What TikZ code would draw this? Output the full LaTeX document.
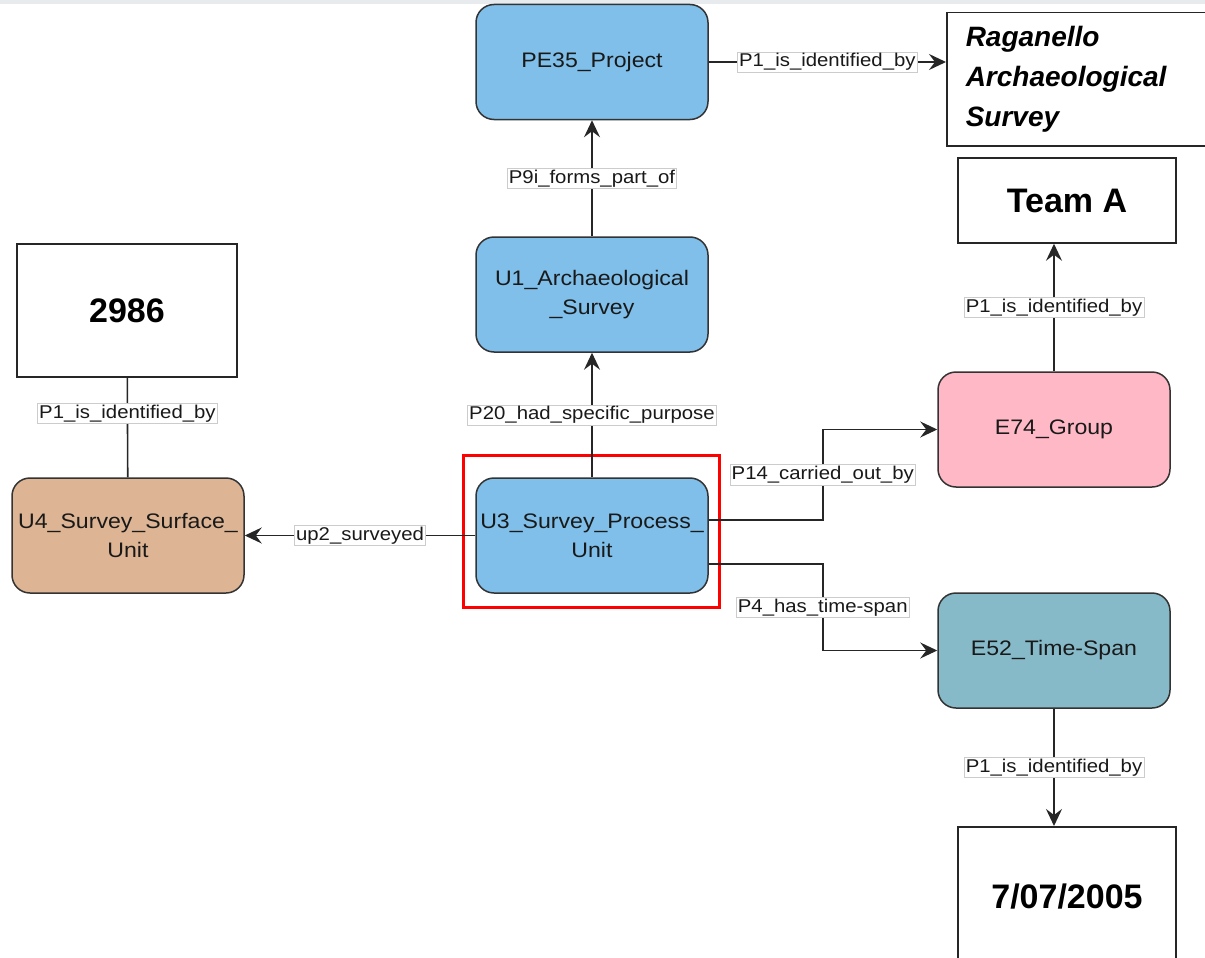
\documentclass[tikz,border=0pt]{standalone}
\usepackage{fontspec}
\setmainfont{Liberation Sans}[FakeStretch=1.1]
\newfontfamily\valuefont{Liberation Sans}
\usetikzlibrary{arrows.meta}
\definecolor{classblue}{HTML}{7FBFE9}
\definecolor{placetan}{HTML}{DDB594}
\definecolor{grouppink}{HTML}{FFB8C6}
\definecolor{timeteal}{HTML}{86BAC8}
\definecolor{topgray}{HTML}{E8EBEE}
\tikzset{
  entity/.style={shape=rectangle, rounded corners=18pt, draw=black!80, line width=1.5pt,
    minimum width=232pt, minimum height=115pt, align=center, text=black!90,
    font=\fontsize{21}{29}\selectfont},
  value/.style={shape=rectangle, draw=black!85, line width=1.5pt, fill=white,
    font=\valuefont\bfseries\fontsize{34}{40}\selectfont},
  prop/.style={draw=black!20, fill=white, line width=0.5pt, inner sep=1.5pt, text=black!90,
    font=\fontsize{18.5}{20}\selectfont},
  link/.style={line width=1.6pt, draw=black!85, -{Stealth[length=17pt,width=16pt,inset=6pt]}}
}
\begin{document}
\begin{tikzpicture}[x=1pt, y=1pt]
		\useasboundingbox (0,0) rectangle (1205,-958);
		\fill[topgray] (0,0) rectangle (1205,-4);

		\node (v0) at (592,-62) [entity, fill=classblue] {PE35\_Project};
		\node (v1) at (592,-294.5) [entity, fill=classblue] {U1\_Archaeological\\\_Survey};
		\node (v2) at (592,-535.5) [entity, fill=classblue] {U3\_Survey\_Process\_\\Unit};
		\node (v3) at (128,-535.5) [entity, fill=placetan] {U4\_Survey\_Surface\_\\Unit};
		\node (v4) at (1054,-429.5) [entity, fill=grouppink] {E74\_Group};
		\node (v5) at (1054,-650.5) [entity, fill=timeteal] {E52\_Time-Span};

		\node (v6) at (127,-310.5) [value, minimum width=220pt, minimum height=133pt] {2986};
		\node (v7) at (1067,-200.5) [value, minimum width=218pt, minimum height=85pt] {Team A};
		\node (v8) at (1067,-826) [value, anchor=north, minimum width=218pt, minimum height=140pt] {7/07/2005};
		\node (v9) at (946,-12) [value, anchor=north west, minimum height=133pt, text width=232pt,
			inner xsep=19pt, align=left, font=\valuefont\bfseries\itshape\fontsize{28}{40}\selectfont]
			{Raganello\\Archaeological\\Survey};

		\draw[red, line width=3pt] ([shift={(-12pt,22pt)}]v2.north west) rectangle ([shift={(11pt,-14pt)}]v2.south east);

		\draw[link]
		(v0.east) -- (v0.east -| v9.west) node[prop, midway] {P1\_is\_identified\_by};
		\draw[link]
		(v1) -- (v0) node[prop, midway] {P9i\_forms\_part\_of};
		\draw[link]
		(v2) -- (v1) node[prop, midway] {P20\_had\_specific\_purpose};
		\draw[link]
		(v2) -- (v3) node[prop, midway] {up2\_surveyed};
		\draw[line width=1.6pt, draw=black!85]
		(v3) -- (v6) node[prop, pos=0.64] {P1\_is\_identified\_by};
		\draw[link]
		([yshift=15.5pt]v2.east) -- ++(114,0) |- (v4.west) node[prop, pos=0.25] {P14\_carried\_out\_by};
		\draw[link]
		([yshift=-28.5pt]v2.east) -- ++(114,0) |- (v5.west) node[prop, pos=0.25] {P4\_has\_time-span};
		\draw[link]
		(v4.north) -- (v4.north |- v7.south) node[prop, midway] {P1\_is\_identified\_by};
		\draw[link]
		(v5.south) -- (v5.south |- v8.north) node[prop, midway] {P1\_is\_identified\_by};
	\end{tikzpicture}
\end{document}
